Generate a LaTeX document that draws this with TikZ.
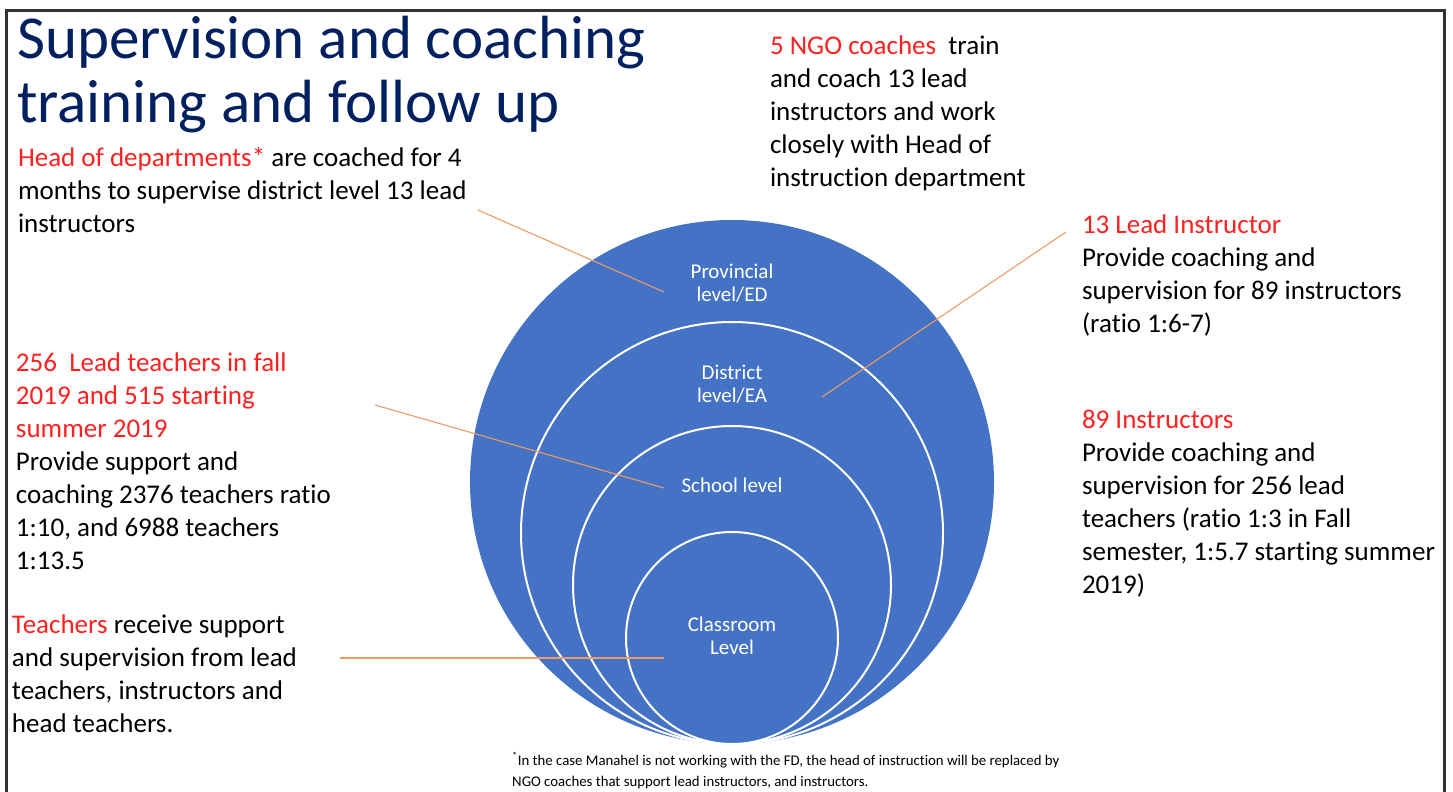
\documentclass[tikz,border=0pt]{standalone}
\usepackage{fontspec}
\setmainfont[Ligatures={NoCommon,NoContextual},Contextuals=NoAlternate]{Carlito}
\definecolor{navy}{HTML}{002060}
\definecolor{hl}{HTML}{FF2020}
\definecolor{cblue}{HTML}{4472C4}
\definecolor{leadcol}{HTML}{F09A68}
\definecolor{framecol}{HTML}{333333}
\tikzset{
  body/.style={anchor=base west, align=left, inner sep=0pt, outer sep=0pt, text=black, font=\fontsize{27}{33}\selectfont},
  ring/.style={circle, inner sep=0pt, outer sep=0pt, fill=cblue},
  innerring/.style={ring, draw=white, line width=2pt},
  lvl/.style={anchor=base, align=center, inner sep=0pt, text=white, font=\fontsize{21}{23}\selectfont},
  leader/.style={draw=leadcol, line width=1.1pt},
}
\newcommand{\hi}[1]{\textcolor{hl}{#1}}
\begin{document}
\begin{tikzpicture}[x=1pt,y=-1pt]
\useasboundingbox (0,0) rectangle (1453,792);
\fill[white] (0,0) rectangle (1453,792);
% frame
\coordinate (fbl) at (6,800);
\coordinate (ftl) at (6,11);
\coordinate (ftr) at (1444,11);
\coordinate (fbr) at (1444,800);
\draw[framecol, line width=3pt] (fbl) -- (ftl) -- (ftr) -- (fbr);

% nested circles
\node[ring, minimum size=524pt] (prov) at (732,482) {};
\node[innerring, minimum size=422pt] (dist) at (732,533) {};
\node[innerring, minimum size=318pt] (school) at (732,585) {};
\node[innerring, minimum size=212pt] (class) at (732,638) {};

% level labels (anchor = baseline of last line)
\node[lvl] (lprov) at (732,301) {Provincial\\level/ED};
\node[lvl] (ldist) at (732,402) {District\\level/EA};
\node[lvl] (lschool) at (732,492) {School level};
\node[lvl] (lclass) at (732,654) {Classroom\\Level};

% title
\node[anchor=base west, align=left, inner sep=0pt, text=navy, font=\fontsize{61}{64}\selectfont] (title) at (17,122) {Supervision and coaching\\training and follow up};

% text blocks (anchor = baseline of last line)
\node[body] (hod) at (18,232) {\hi{Head of departments*} are coached for 4\\months to supervise district level 13 lead\\instructors};
\node[body] (ngo) at (770,186) {\hi{5 NGO coaches}\ \ train\\and coach 13 lead\\instructors and work\\closely with Head of\\instruction department};
\node[body] (lead13) at (1082,332) {\hi{13 Lead Instructor}\\Provide coaching and\\supervision for 89 instructors\\(ratio 1:6-7)};
\node[body] (inst89) at (1082,593) {\hi{89 Instructors}\\Provide coaching and\\supervision for 256 lead\\teachers (ratio 1:3 in Fall\\semester, 1:5.7 starting summer\\2019)};
\node[body] (lt256) at (16,569) {\hi{256\ \ Lead teachers in fall}\\\hi{2019 and 515 starting}\\\hi{summer 2019}\\Provide support and\\coaching 2376 teachers ratio\\1:10, and 6988 teachers\\1:13.5};
\node[body] (teach) at (12,732) {\hi{Teachers} receive support\\and supervision from lead\\teachers, instructors and\\head teachers.};

% footnote
\node[anchor=base west, align=left, inner sep=0pt, font=\fontsize{14.8}{21}\selectfont] (foot) at (512,786) {\textsuperscript{*}In the case Manahel is not working with the FD, the head of instruction will be replaced by\\NGO coaches that support lead instructors, and instructors.};

% leader lines
\coordinate (a1) at (478,210);
\coordinate (b1) at (664,292);
\coordinate (a2) at (1066,232);
\coordinate (b2) at (822,397);
\coordinate (a3) at (375,405);
\coordinate (b3) at (664,488);
\coordinate (a4) at (340,658);
\coordinate (b4) at (664,658);
\draw[leader] (a1) -- (b1);
\draw[leader] (a2) -- (b2);
\draw[leader] (a3) -- (b3);
\draw[leader] (a4) -- (b4);
\end{tikzpicture}
\end{document}
